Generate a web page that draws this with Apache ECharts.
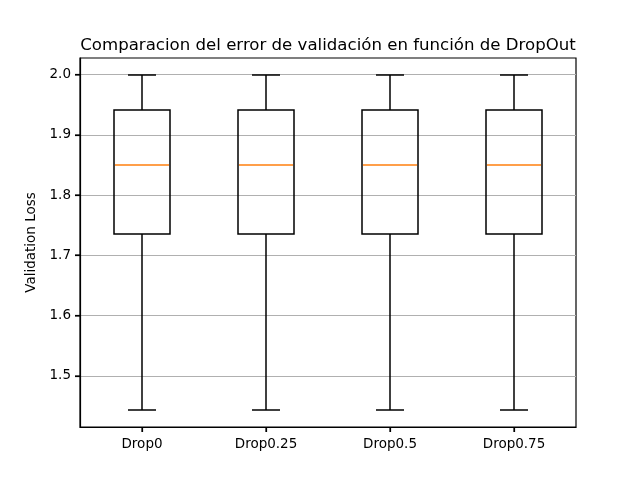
<!DOCTYPE html>
<html><head><meta charset="utf-8">
<script src="https://cdn.jsdelivr.net/npm/echarts@6/dist/echarts.min.js"></script>
<style>html,body{margin:0;padding:0;background:#fff}#c{width:640px;height:480px}</style>
</head><body><div id="c"></div>
<script>
const categories = ['Drop0', 'Drop0.25', 'Drop0.5', 'Drop0.75'];
const mins    = [1.443, 1.443, 1.443, 1.443];
const q1s     = [1.735, 1.735, 1.735, 1.735];
const medians = [1.850, 1.850, 1.850, 1.850];
const q3s     = [1.941, 1.941, 1.941, 1.941];
const maxs    = [2.000, 2.000, 2.000, 2.000];
const yTicks  = [1.5, 1.6, 1.7, 1.8, 1.9, 2.0];
const yMin = 1.4152, yMax = 2.0275;

const data = categories.map((c, i) => [i, mins[i], q1s[i], medians[i], q3s[i], maxs[i]]);
const font = 'DejaVu Sans';
const px = v => Math.round(v);

const chart = echarts.init(document.getElementById('c'), null, {renderer: 'canvas'});
chart.setOption({
  animation: false,
  backgroundColor: '#fff',
  title: {
    text: 'Comparacion del error de validación en función de DropOut',
    left: 323, top: 32, textAlign: 'center',
    textStyle: {fontFamily: font, fontSize: 16.6, fontWeight: 'normal', color: '#000'}
  },
  grid: {left: 80, right: 64, top: 58, bottom: 53, show: true, borderColor: '#000', borderWidth: 1.2, backgroundColor: 'transparent'},
  xAxis: {
    type: 'category', data: categories, boundaryGap: true,
    axisLine: {show: true, lineStyle: {color: '#000', width: 1.2}},
    axisTick: {show: true, interval: 0, alignWithLabel: true, length: 5, lineStyle: {color: '#000', width: 1.2}},
    axisLabel: {fontFamily: font, fontSize: 13.5, color: '#000', margin: 10, interval: 0},
    splitLine: {show: false}
  },
  yAxis: {
    type: 'value', min: yMin, max: yMax,
    name: 'Validation Loss', nameLocation: 'middle', nameGap: 41,
    nameTextStyle: {fontFamily: font, fontSize: 13.5, color: '#000'},
    axisLine: {show: true, lineStyle: {color: '#000', width: 1.2}},
    axisTick: {show: true, inside: false, length: 5, lineStyle: {color: '#000', width: 1.2}, customValues: yTicks},
    axisLabel: {fontFamily: font, fontSize: 13.5, color: '#000', margin: 9, customValues: yTicks,
      formatter: v => v.toFixed(1)},
    splitLine: {show: true, lineStyle: {color: '#b0b0b0', width: 1}}
  },
  series: [{
    type: 'custom',
    data: data,
    encode: {x: 0, y: [1, 2, 3, 4, 5]},
    renderItem: function (params, api) {
      const i = api.value(0);
      const band = api.size([1, 0])[0];
      const bw = band * 0.45, cw = bw / 2;
      const pMin = api.coord([i, api.value(1)]);
      const pQ1 = api.coord([i, api.value(2)]);
      const pMed = api.coord([i, api.value(3)]);
      const pQ3 = api.coord([i, api.value(4)]);
      const pMax = api.coord([i, api.value(5)]);
      const cx = px(pMin[0]);
      const L = px(pMin[0] - bw / 2), R = px(pMin[0] + bw / 2);
      const cl = px(pMin[0] - cw / 2), cr = px(pMin[0] + cw / 2);
      const st = {stroke: '#000', lineWidth: 1.5, fill: null};
      return {
        type: 'group',
        children: [
          {type: 'line', shape: {x1: cx, y1: px(pMin[1]), x2: cx, y2: px(pQ1[1])}, style: st},
          {type: 'line', shape: {x1: cx, y1: px(pQ3[1]), x2: cx, y2: px(pMax[1])}, style: st},
          {type: 'line', shape: {x1: cl, y1: px(pMin[1]), x2: cr, y2: px(pMin[1])}, style: st},
          {type: 'line', shape: {x1: cl, y1: px(pMax[1]), x2: cr, y2: px(pMax[1])}, style: st},
          {type: 'rect', shape: {x: L, y: px(pQ3[1]), width: R - L, height: px(pQ1[1]) - px(pQ3[1])}, style: {stroke: '#000', lineWidth: 1.5, fill: 'rgba(0,0,0,0)'}},
          {type: 'line', shape: {x1: L + 1, y1: px(pMed[1]), x2: R - 1, y2: px(pMed[1])}, style: {stroke: '#ff7f0e', lineWidth: 1.5, fill: null}}
        ]
      };
    }
  }]
});

// Tick marks derived from the chart's own scales
try {
  const tickEls = [];
  const p0 = chart.convertToPixel({xAxisIndex: 0, yAxisIndex: 0}, [0, yMin]);
  const p1 = chart.convertToPixel({xAxisIndex: 0, yAxisIndex: 0}, [1, yMin]);
  const band = p1[0] - p0[0];
  const leftX = p0[0] - band / 2;
  categories.forEach((c, i) => {
    const p = chart.convertToPixel({xAxisIndex: 0, yAxisIndex: 0}, [i, yMin]);
    const x = Math.round(p[0]);
    tickEls.push({type: 'line', shape: {x1: x, y1: p[1], x2: x, y2: p[1] + 5}, style: {stroke: '#000', lineWidth: 1.2}, z: 10});
  });
  yTicks.forEach(t => {
    const p = chart.convertToPixel({xAxisIndex: 0, yAxisIndex: 0}, [0, t]);
    const y = Math.round(p[1]);
    tickEls.push({type: 'line', shape: {x1: leftX - 5, y1: y, x2: leftX, y2: y}, style: {stroke: '#000', lineWidth: 1.2}, z: 10});
  });
  chart.setOption({graphic: tickEls});
} catch (e) {}
</script>
</body></html>
